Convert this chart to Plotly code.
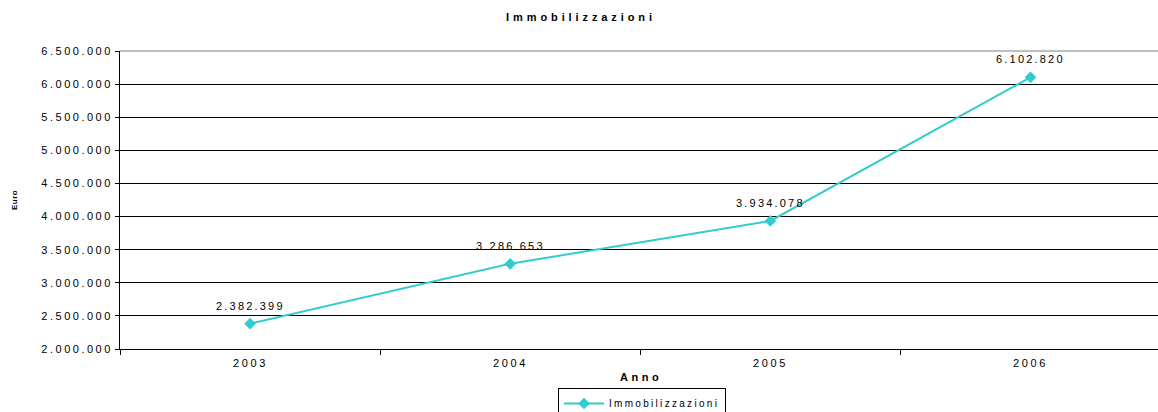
import plotly.graph_objects as go

anni = ["2003", "2004", "2005", "2006"]
immobilizzazioni = [2382399, 3286653, 3934078, 6102820]
etichette = ["2.382.399", "3.286.653", "3.934.078", "6.102.820"]
y_ticks = [2000000, 2500000, 3000000, 3500000, 4000000, 4500000, 5000000, 5500000, 6000000, 6500000]
y_tick_labels = ["2.000.000", "2.500.000", "3.000.000", "3.500.000", "4.000.000",
                 "4.500.000", "5.000.000", "5.500.000", "6.000.000", "6.500.000"]

FONT = "Liberation Sans, Arial, sans-serif"
COLOR = "#33CCCC"


def sp(text, ls):
    return f'<span style="letter-spacing:{ls}px">{text}</span>'


fig = go.Figure()
fig.add_trace(go.Scatter(
    x=list(range(len(anni))), y=immobilizzazioni, mode="lines+markers",
    name=sp("Immobilizzazioni", 2.3),
    line=dict(color=COLOR, width=2),
    marker=dict(symbol="diamond", size=9, color=COLOR),
    cliponaxis=False,
))

for i, (v, t) in enumerate(zip(immobilizzazioni, etichette)):
    fig.add_annotation(x=i, y=v, text=sp(t, 2.2), showarrow=False, yshift=18,
                       font=dict(family=FONT, size=11, color="black"))

fig.add_annotation(xref="paper", yref="paper", x=-(120 - 14) / 1038, y=0.5,
                   text=sp("<b>Euro</b>", 0.5), textangle=-90, showarrow=False,
                   xanchor="center", yanchor="middle",
                   font=dict(family=FONT, size=8, color="black"))

fig.add_shape(type="line", xref="paper", yref="paper", x0=0, x1=1, y0=1, y1=1,
              line=dict(color="#808080", width=1), layer="above")

fig.update_layout(
    width=1158, height=412,
    margin=dict(l=120, r=0, t=51, b=63, autoexpand=False),
    paper_bgcolor="white", plot_bgcolor="white",
    title=dict(text=sp("<b>Immobilizzazioni</b>", 3.9), x=(503 + 659) / 2 / 1158, xanchor="center",
               y=1 - 17 / 412, yanchor="middle", yref="container",
               font=dict(family=FONT, size=11, color="black")),
    font=dict(family=FONT, size=11, color="black"),
    showlegend=True,
    legend=dict(orientation="h", x=(642 - 120) / 1038, xanchor="center", xref="paper",
                y=-(388 - 349) / 298, yanchor="top", yref="paper",
                bordercolor="black", borderwidth=1, font=dict(family=FONT, size=10),
                itemwidth=40, tracegroupgap=0, bgcolor="white"),
)
fig.update_xaxes(
    range=[-0.5, 3.49], showgrid=False, zeroline=False, automargin=False,
    showline=True, linecolor="black", linewidth=1,
    tickvals=[-0.5, 0.5, 1.5, 2.5], ticktext=["", "", "", ""],
    ticks="outside", ticklen=5, tickcolor="black",
)
for i, a in enumerate(anni):
    fig.add_annotation(x=i, xref="x", y=0, yref="paper", yshift=-6, yanchor="top",
                       text=sp(a, 2.6), showarrow=False,
                       font=dict(family=FONT, size=11, color="black"))
fig.add_annotation(x=((620 + 662) / 2 - 120) / 1038, xref="paper", y=0, yref="paper",
                   yshift=-20, yanchor="top", text=sp("<b>Anno</b>", 3.5), showarrow=False,
                   font=dict(family=FONT, size=11, color="black"))

fig.update_yaxes(
    range=[2000000, 6500000], tickvals=y_ticks,
    ticktext=[sp(t, 2.5) for t in y_tick_labels],
    showgrid=True, gridcolor="black", gridwidth=1, automargin=False,
    showline=True, linecolor="black", linewidth=1,
    ticks="outside", ticklen=4, tickcolor="black",
    tickfont=dict(family=FONT, size=11),
    zeroline=False,
)

fig.write_html("out.html", config={"displayModeBar": False},
               post_script="document.body.style.margin='0';document.body.style.overflow='hidden';")
